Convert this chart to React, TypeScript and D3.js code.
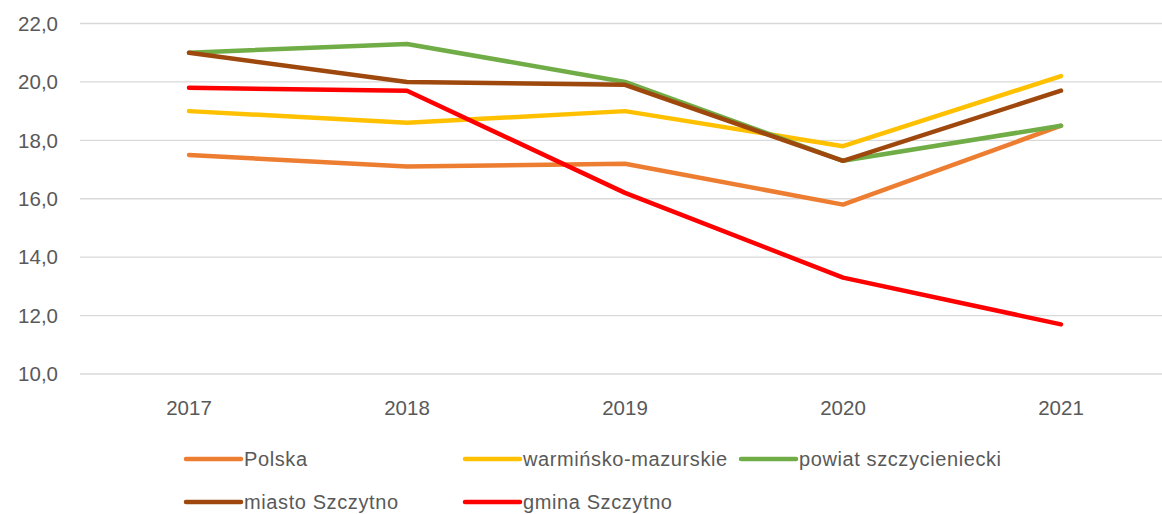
import React from 'react';
import * as d3 from 'd3';

const years = ['2017', '2018', '2019', '2020', '2021'];
const polska = [17.5, 17.1, 17.2, 15.8, 18.5];
const warminsko = [19.0, 18.6, 19.0, 17.8, 20.2];
const powiat = [21.0, 21.3, 20.0, 17.3, 18.5];
const miasto = [21.0, 20.0, 19.9, 17.3, 19.7];
const gmina = [19.8, 19.7, 16.2, 13.3, 11.7];
const yTicks = [10, 12, 14, 16, 18, 20, 22];

const series = [
  { name: 'Polska', values: polska, color: '#ED7D31' },
  { name: 'warmińsko-mazurskie', values: warminsko, color: '#FFC000' },
  { name: 'powiat szczycieniecki', values: powiat, color: '#70AD47' },
  { name: 'miasto Szczytno', values: miasto, color: '#9E480E' },
  { name: 'gmina Szczytno', values: gmina, color: '#FF0000' },
];

// legend slots: [x of marker, y of row]
const legendPos = [
  [186, 459],
  [465, 459],
  [741, 459],
  [186, 502],
  [465, 502],
];

const W = 1162;
const H = 514;
const font = '"Liberation Sans", Arial, sans-serif';

const App: React.FC = () => {
  const x = d3.scaleBand<string>().domain(years).range([80, 1170]);
  const y = d3.scaleLinear().domain([10, 22]).range([374, 23.5]);

  const line = d3
    .line<number>()
    .x((_, i) => x(years[i])! + x.bandwidth() / 2)
    .y((d) => y(d));

  return (
    <svg
      width={W}
      height={H}
      style={{ position: 'absolute', left: 0, top: 0, background: '#fff' }}
    >
      {yTicks.map((t) => (
        <g key={t}>
          <line x1={80} x2={W} y1={y(t)} y2={y(t)} stroke="#d9d9d9" strokeWidth={1.3} />
          <text
            x={58}
            y={y(t)}
            dy="0.35em"
            textAnchor="end"
            fontFamily={font}
            fontSize={20.5}
            fill="#595959"
          >
            {t.toFixed(1).replace('.', ',')}
          </text>
        </g>
      ))}
      {years.map((yr) => (
        <text
          key={yr}
          x={x(yr)! + x.bandwidth() / 2}
          y={408}
          dy="0.35em"
          textAnchor="middle"
          fontFamily={font}
          fontSize={20.5}
          fill="#595959"
        >
          {yr}
        </text>
      ))}
      {series.map((s) => (
        <path
          key={s.name}
          d={line(s.values)!}
          fill="none"
          stroke={s.color}
          strokeWidth={4.5}
          strokeLinejoin="round"
          strokeLinecap="round"
        />
      ))}
      {series.map((s, i) => {
        const [lx, ly] = legendPos[i];
        return (
          <g key={s.name}>
            <line
              x1={lx}
              x2={lx + 55}
              y1={ly}
              y2={ly}
              stroke={s.color}
              strokeWidth={4.5}
              strokeLinecap="round"
            />
            <text
              x={lx + 58}
              y={ly}
              dy="0.35em"
              fontFamily={font}
              fontSize={20}
              letterSpacing={0.6}
              fill="#595959"
            >
              {s.name}
            </text>
          </g>
        );
      })}
    </svg>
  );
};

export default App;
